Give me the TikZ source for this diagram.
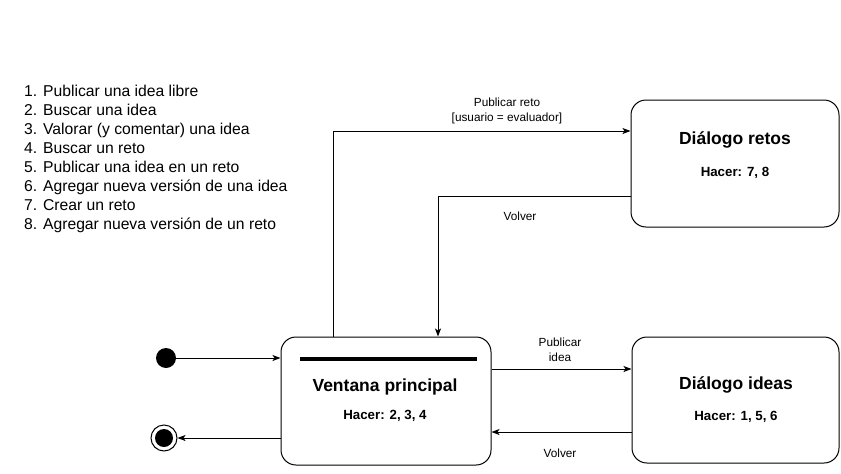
\documentclass[tikz,border=0pt]{standalone}
\usepackage{fontspec}
\setmainfont{Liberation Sans}
\usetikzlibrary{arrows.meta,calc}
\begin{document}
\begin{tikzpicture}[x=1pt,y=-1pt,
  statebox/.style={draw,line width=1pt,rounded corners=15pt,inner sep=0pt},
  arr/.style={line width=1pt,-{Stealth[length=8pt,width=6pt,inset=2pt]}},
  ttl/.style={font=\fontsize{17.5}{20}\selectfont\bfseries,inner sep=0pt},
  hac/.style={font=\fontsize{13.3}{15}\selectfont\bfseries,inner sep=0pt},
  lbl/.style={font=\fontsize{11.8}{15}\selectfont,inner sep=0pt,align=center}]
\useasboundingbox (0,0) rectangle (841,474);
% list
\node[anchor=west,inner sep=0pt,align=left,font=\fontsize{15.7}{19}\selectfont] (list) at (24,158.5)
{1. Publicar una idea libre\\
2. Buscar una idea\\
3. Valorar (y comentar) una idea\\
4. Buscar un reto\\
5. Publicar una idea en un reto\\
6. Agregar nueva versión de una idea\\
7. Crear un reto\\
8. Agregar nueva versión de un reto};
% states
\node[statebox,minimum width=210pt,minimum height=128pt] (v) at (386,401) {};
\node[statebox,minimum width=208pt,minimum height=127pt] (r) at (735,163.5) {};
\node[statebox,minimum width=207pt,minimum height=126pt] (i) at (735.5,400) {};
\draw[line width=4pt] (300,359) -- (477,359);
\node[ttl] (vt) at (385,387) {Ventana principal};
\node[hac] (vh) at (385,416) {Hacer: 2, 3, 4};
\node[ttl] (rt) at (735,140) {Diálogo retos};
\node[hac] (rh) at (735,173) {Hacer: 7, 8};
\node[ttl] (it) at (736,385) {Diálogo ideas};
\node[hac] (ih) at (736,417) {Hacer: 1, 5, 6};
% pseudo states
\node[circle,fill=black,minimum size=20pt,inner sep=0pt] (init) at (166,358) {};
\node[circle,draw,line width=1pt,minimum size=26pt,inner sep=0pt] (final) at (164,438) {};
\fill (final.center) circle (9pt);
% transitions
\draw[arr] (init) -- (init -| v.west);
\draw[arr] (final -| v.west) -- (final);
\draw[arr] ([xshift=-53pt]v.north) |- ([yshift=32.5pt]r.west);
\draw[arr] ([yshift=-32.5pt]r.west) -| ([xshift=52pt]v.north);
\draw[arr] ([yshift=32pt]v.east) -- ([yshift=32pt]v.east -| i.west);
\draw[arr] ([yshift=-31pt]v.east -| i.west) -- ([yshift=-31pt]v.east);
% labels
\node[lbl] (l1) at (507,110.5) {Publicar reto\\{}[usuario = evaluador]};
\node[lbl] (l2) at (520,216) {Volver};
\node[lbl] (l3) at (560,349.5) {Publicar\\idea};
\node[lbl] (l4) at (560,453) {Volver};
\end{tikzpicture}
\end{document}
